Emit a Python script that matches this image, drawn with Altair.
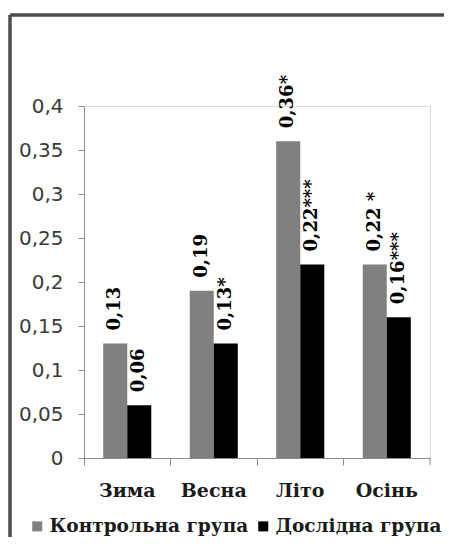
import altair as alt
import pandas as pd

seasons = ["Зима", "Весна", "Літо", "Осінь"]
groups = ["Контрольна група", "Дослідна група"]
control = [0.13, 0.19, 0.36, 0.22]
experimental = [0.06, 0.13, 0.22, 0.16]
control_marks = ["", "", "*", " *"]
experimental_marks = ["", "*", "***", "***"]
y_ticks = [0, 0.05, 0.1, 0.15, 0.2, 0.25, 0.3, 0.35, 0.4]
colors = ["#808080", "#000000"]

rows = []
for i, s in enumerate(seasons):
    for g, vals, marks in ((groups[0], control, control_marks), (groups[1], experimental, experimental_marks)):
        v = vals[i]
        rows.append({
            "season": s,
            "group": g,
            "value": v,
            "label": (f"{v:.2f}").replace(".", ",") + marks[i],
        })
df = pd.DataFrame(rows)

SERIF = "DejaVu Serif"

x_enc = alt.X(
    "season:N",
    sort=seasons,
    scale=alt.Scale(paddingInner=0, paddingOuter=0),
    axis=alt.Axis(
        title=None,
        labelAngle=0,
        bandPosition=0,
        ticks=True,
        tickSize=7,
        tickColor="#8c8c8c",
        domainColor="#8c8c8c",
        labelFont=SERIF,
        labelFontWeight="bold",
        labelFontSize=19,
        labelColor="#1a1a1a",
        labelPadding=16,
        labelAlign="center",
    ),
)
xoff = alt.XOffset("group:N", sort=groups, scale=alt.Scale(paddingInner=0, paddingOuter=0.8))
y_enc = alt.Y(
    "value:Q",
    scale=alt.Scale(domain=[0, 0.4], nice=False, zero=True),
    axis=alt.Axis(
        title=None,
        values=y_ticks,
        grid=False,
        tickSize=6,
        tickColor="#8c8c8c",
        domainColor="#8c8c8c",
        labelFont="DejaVu Sans",
        labelFontSize=20,
        labelColor="#3a3a3a",
        labelPadding=15,
        labelExpr="replace(format(datum.value, '~g'), '.', ',')",
    ),
)

bars = alt.Chart(df).mark_bar().encode(
    x=x_enc,
    xOffset=xoff,
    y=y_enc,
    color=alt.Color(
        "group:N",
        sort=groups,
        scale=alt.Scale(domain=groups, range=colors),
        legend=alt.Legend(
            title=None,
            orient="none",
            direction="horizontal",
            legendX=-56,
            legendY=411,
            symbolType="square",
            symbolSize=100,
            symbolStrokeWidth=0,
            labelFont=SERIF,
            labelFontWeight="bold",
            labelFontSize=18.5,
            labelColor="#1a1a1a",
            labelLimit=0,
            labelOffset=3,
            columnPadding=5,
            padding=0,
        ),
    ),
)

labels = alt.Chart(df).mark_text(
    angle=270,
    align="left",
    baseline="middle",
    dx=13,
    font=SERIF,
    fontWeight="bold",
    fontSize=18,
    color="#000000",
).encode(
    x=alt.X("season:N", sort=seasons),
    xOffset=xoff,
    y="value:Q",
    text="label:N",
)

end_tick = alt.Chart(pd.DataFrame({"season": [seasons[-1]]})).mark_rule(
    color="#8c8c8c", strokeWidth=1
).encode(
    x=alt.X("season:N", sort=seasons, bandPosition=1),
    y=alt.value(352),
    y2=alt.value(359),
)

frame_data = alt.Data(values=[{"k": 1}])
frame_top = alt.Chart(frame_data).mark_rule(color="#4d4d4d", strokeWidth=3.5).encode(
    x=alt.value(-74), x2=alt.value(380), y=alt.value(-91)
)
frame_left = alt.Chart(frame_data).mark_rule(color="#4d4d4d", strokeWidth=3.5).encode(
    x=alt.value(-74), y=alt.value(-91), y2=alt.value(450)
)

chart = (
    alt.layer(bars, labels, end_tick, frame_top, frame_left)
    .properties(
        width=346,
        height=352,
        autosize=alt.AutoSizeParams(type="none"),
        padding={"left": 76, "top": 98, "right": 14, "bottom": 79},
    )
    .configure_view(stroke=None)
    .configure(background="white")
)

chart.save("out.html", embed_options={"renderer": "svg", "actions": False})
